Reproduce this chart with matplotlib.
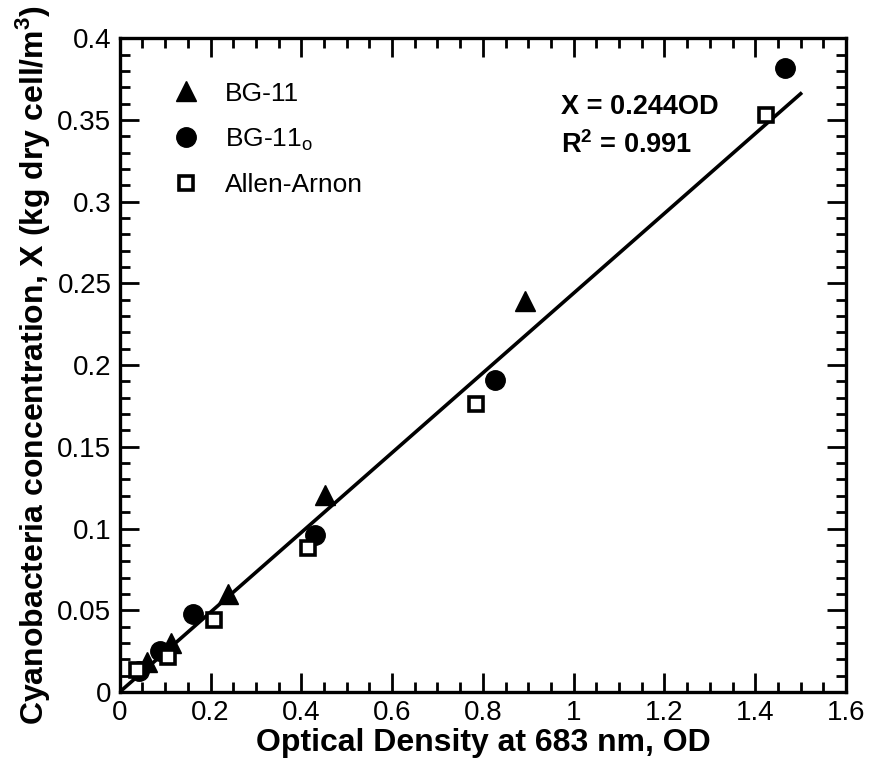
import numpy as np
import matplotlib.pyplot as plt
from matplotlib.ticker import MultipleLocator, FuncFormatter

plt.rcParams['font.family'] = ['Liberation Sans', 'DejaVu Sans']
plt.rcParams['mathtext.fontset'] = 'custom'
plt.rcParams['mathtext.rm'] = 'Liberation Sans'
plt.rcParams['mathtext.bf'] = 'Liberation Sans:bold'

# Data
bg11_od = [0.059, 0.114, 0.239, 0.452, 0.892]
bg11_x = [0.0185, 0.030, 0.060, 0.1205, 0.239]

bg11o_od = [0.042, 0.088, 0.162, 0.430, 0.826, 1.465]
bg11o_x = [0.013, 0.025, 0.048, 0.096, 0.191, 0.382]

allen_od = [0.038, 0.106, 0.208, 0.415, 0.784, 1.423]
allen_x = [0.0135, 0.0216, 0.044, 0.088, 0.176, 0.353]

slope = 0.244
fit_od = np.array([0.0, 1.5])

fig = plt.figure(figsize=(8.74, 7.71), dpi=100)
ax = fig.add_axes([0.137, 0.1025, 0.831, 0.848])

ax.plot(fit_od, slope * fit_od, color='black', lw=2.6, zorder=2)
ax.plot(bg11_od, bg11_x, '^', color='black', ms=14, ls='none', label='BG-11', zorder=3)
ax.plot(bg11o_od, bg11o_x, 'o', color='black', ms=14, ls='none',
        label='BG-11$_\\mathrm{o}$', zorder=3)
ax.plot(allen_od, allen_x, 's', mfc='white', mec='black', mew=2.6, ms=10.5, ls='none',
        label='Allen-Arnon', zorder=3)

ax.set_xlim(0, 1.6)
ax.set_ylim(0, 0.4)
ax.xaxis.set_major_locator(MultipleLocator(0.2))
ax.xaxis.set_minor_locator(MultipleLocator(0.05))
ax.yaxis.set_major_locator(MultipleLocator(0.05))
ax.yaxis.set_minor_locator(MultipleLocator(0.01))
fmt = FuncFormatter(lambda v, p: '%g' % round(v, 4))
ax.xaxis.set_major_formatter(fmt)
ax.yaxis.set_major_formatter(fmt)

ax.tick_params(which='both', direction='in', top=True, right=True, labelsize=20, width=2)
ax.tick_params(which='major', length=14, pad=6)
ax.tick_params(which='minor', length=7)
for s in ax.spines.values():
    s.set_linewidth(2.4)

ax.set_xlabel('Optical Density at 683 nm, OD', fontsize=23, fontweight='bold', labelpad=1)
ax.set_ylabel('Cyanobacteria concentration, X (kg dry cell/m$^\\mathbf{3}$)',
              fontsize=23, fontweight='bold', labelpad=4)

ax.text(0.973, 0.358, 'X = 0.244OD', fontsize=19.5, fontweight='bold', va='center')
ax.text(0.973, 0.3345, 'R$^\\mathbf{2}$ = 0.991', fontsize=19.5, fontweight='bold', va='center')

ax.legend(loc='upper left', bbox_to_anchor=(0.04, 0.97), frameon=False, fontsize=19,
          handlelength=1.0, handletextpad=1.0, labelspacing=0.78, numpoints=1)

fig.savefig('out.png', dpi=100)
